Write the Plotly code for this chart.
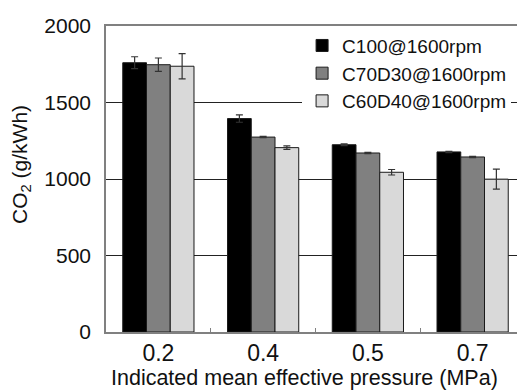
import plotly.graph_objects as go

categories = ["0.2", "0.4", "0.5", "0.7"]
series_names = ["C100@1600rpm", "C70D30@1600rpm", "C60D40@1600rpm"]
c100 = [1760, 1395, 1224, 1177]
c100_err = [39, 24, 6, 4]
c70d30 = [1747, 1274, 1170, 1144]
c70d30_err = [44, 4, 4, 4]
c60d40 = [1737, 1205, 1044, 999]
c60d40_err = [83, 11, 18, 65]
y_ticks = [0, 500, 1000, 1500, 2000]

colors = ["#000000", "#808080", "#d9d9d9"]
values = [c100, c70d30, c60d40]
errors = [c100_err, c70d30_err, c60d40_err]

FONT = "Liberation Sans, Arial, sans-serif"

fig = go.Figure()
for name, vals, errs, col in zip(series_names, values, errors, colors):
    fig.add_trace(go.Bar(
        x=categories, y=vals, name=name,
        marker=dict(color=col, line=dict(color="#1a1a1a", width=1)),
        error_y=dict(type="data", array=errs, visible=True,
                     color="#333333", thickness=1.2, width=3.5),
    ))

# page body adds an 8px margin; compensate so the plot sits where the reference has it
fig.update_layout(
    width=517, height=383,
    margin=dict(l=98, r=0, t=18, b=59, autoexpand=False),
    paper_bgcolor="white", plot_bgcolor="white",
    barmode="group", bargap=0.32, bargroupgap=0,
    font=dict(family=FONT, color="#111111"),
    showlegend=True,
    legend=dict(
        x=0.468, y=0.998, xanchor="left", yanchor="top",
        bgcolor="white", borderwidth=0,
        font=dict(size=19, family=FONT, color="#111111"),
        tracegroupgap=0,
    ),
    xaxis=dict(
        type="category", range=[-0.5, 3.5],
        showline=True, linecolor="#808080", linewidth=1.5, mirror=True,
        ticks="inside", tickson="boundaries", ticklen=4, tickcolor="#808080",
        tickfont=dict(size=23, family=FONT, color="#111111"),
        showgrid=False, zeroline=False,
    ),
    yaxis=dict(
        range=[0, 2000], tickvals=y_ticks,
        showline=True, linecolor="#808080", linewidth=1.5,
        ticks="", ticklabelstandoff=9,
        tickfont=dict(size=21, family=FONT, color="#111111"),
        showgrid=True, gridcolor="#222222", gridwidth=1,
        zeroline=False,
    ),
    annotations=[
        dict(text="CO<sub>2</sub> (g/kWh)", textangle=-90,
             xref="paper", yref="paper", x=-0.203, y=0.549,
             xanchor="center", yanchor="middle", showarrow=False,
             font=dict(size=21, family=FONT, color="#111111")),
        dict(text="Indicated mean effective pressure (MPa)",
             xref="paper", yref="paper", x=0.474, y=-0.150,
             xanchor="center", yanchor="middle", showarrow=False,
             font=dict(size=21.5, family=FONT, color="#111111")),
    ],
)

fig.write_html("out.html")
